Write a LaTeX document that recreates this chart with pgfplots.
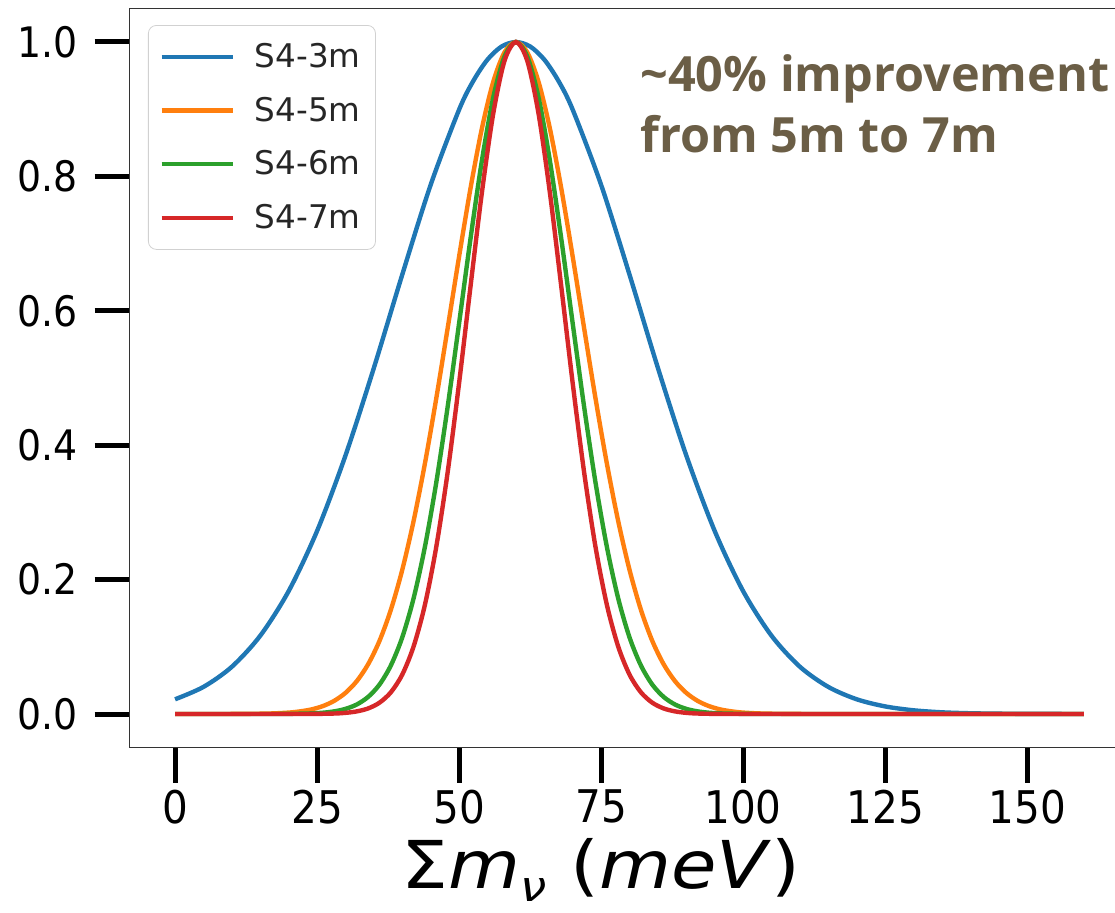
\documentclass[border=0pt]{standalone}
\usepackage{pgfplots}
\pgfplotsset{compat=1.18}
\usepackage{fontspec}
\setmainfont{DejaVu Sans}
\newfontfamily\notefont{Open Sans}
\newfontfamily\tickfont[FakeStretch=0.9]{DejaVu Sans}
\newfontfamily\labelfont[FakeStretch=1.12]{DejaVu Sans}

\definecolor{tabblue}{HTML}{1F77B4}
\definecolor{taborange}{HTML}{FF7F0E}
\definecolor{tabgreen}{HTML}{2CA02C}
\definecolor{tabred}{HTML}{D62728}
\definecolor{notecol}{RGB}{107,94,70}

% normalised posteriors on the neutrino mass sum, one table per configuration
\pgfplotstableread{
x y
0 0.0219
5 0.0403
10 0.0703
15 0.1165
20 0.1829
25 0.2723
30 0.3846
35 0.5150
40 0.6539
45 0.7875
50 0.8993
52.5 0.9420
55 0.9738
57.5 0.9934
60 1.0000
62.5 0.9934
65 0.9738
67.5 0.9420
70 0.8993
75 0.7875
80 0.6539
85 0.5150
90 0.3846
95 0.2723
100 0.1829
105 0.1165
110 0.0703
115 0.0403
120 0.0219
125 0.0113
130 0.0055
135 0.0025
140 0.0011
145 0.0005
150 0.0002
155 0.0001
160 0.0000
}\threem

\pgfplotstableread{
x y
0 0
8 0
16 0.0006
20 0.0021
22 0.0039
24 0.0068
26 0.0117
28 0.0195
30 0.0314
32 0.0490
34 0.0742
36 0.1090
38 0.1553
40 0.2146
42 0.2875
44 0.3734
46 0.4704
48 0.5747
50 0.6806
52 0.7817
54 0.8707
56 0.9403
58 0.9847
60 1.0000
62 0.9847
64 0.9403
66 0.8707
68 0.7817
70 0.6806
72 0.5747
74 0.4704
76 0.3734
78 0.2875
80 0.2146
82 0.1553
84 0.1090
86 0.0742
88 0.0490
90 0.0314
92 0.0195
94 0.0117
96 0.0068
98 0.0039
100 0.0021
104 0.0006
112 0
120 0
160 0
}\fivem

\pgfplotstableread{
x y
0 0
8 0
16 0
20 0.0002
24 0.0009
26 0.0019
28 0.0039
30 0.0076
32 0.0142
34 0.0255
36 0.0439
38 0.0724
40 0.1141
42 0.1724
44 0.2494
46 0.3453
48 0.4578
50 0.5813
52 0.7066
54 0.8226
56 0.9169
58 0.9785
60 1.0000
62 0.9785
64 0.9169
66 0.8226
68 0.7066
70 0.5813
72 0.4578
74 0.3453
76 0.2494
78 0.1724
80 0.1141
82 0.0724
84 0.0439
86 0.0255
88 0.0142
90 0.0076
92 0.0039
94 0.0019
96 0.0009
100 0.0002
104 0
112 0
160 0
}\sixm

\pgfplotstableread{
x y
0 0
8 0
16 0
24 0.0001
28 0.0007
30 0.0017
32 0.0039
34 0.0083
36 0.0169
38 0.0324
40 0.0587
42 0.1007
44 0.1630
46 0.2494
48 0.3604
50 0.4923
52 0.6354
54 0.7748
56 0.8928
58 0.9721
60 1.0000
62 0.9721
64 0.8928
66 0.7748
68 0.6354
70 0.4923
72 0.3604
74 0.2494
76 0.1630
78 0.1007
80 0.0587
82 0.0324
84 0.0169
86 0.0083
88 0.0039
90 0.0017
92 0.0007
96 0.0001
104 0
112 0
160 0
}\sevenm

\begin{document}
\begin{tikzpicture}
\useasboundingbox (0,0) rectangle (557.5pt,456pt);
\clip (0,0) rectangle (557.5pt,456pt);
\begin{axis}[
    at={(64.8pt,82.2pt)}, anchor=south west,
    scale only axis, width=499.9pt, height=369.6pt,
    xmin=-8, xmax=168, ymin=-0.05, ymax=1.05,
    xtick={0,25,...,150},
    ytick={0,0.2,0.4,0.6,0.8,1.0},
    yticklabels={0.0,0.2,0.4,0.6,0.8,1.0},
    xtick pos=bottom, ytick pos=left,
    tick align=outside, major tick length=17.5pt,
    tick style={black, line width=2.5pt},
    axis line style={black!80, line width=0.8pt},
    /pgf/number format/assume math mode=true,
    yticklabel style={font=\tickfont\fontsize{21pt}{21pt}\selectfont, xshift=-5pt},
    xticklabel style={font=\tickfont\fontsize{22.5pt}{22.5pt}\selectfont},
    xlabel={Σ\textit{m}\raisebox{-0.2em}{\fontsize{21pt}{21pt}\selectfont\textit{ν}}\ (\textit{meV})},
    xlabel style={font=\labelfont\fontsize{33pt}{33pt}\selectfont, inner sep=0pt,
                  at={(axis description cs:0.4715,-0.191)}, anchor=base},
    legend cell align=left,
    legend image code/.code={\draw[#1] (0pt,0pt) -- (35.5pt,0pt);},
    legend style={at={(0.0184,0.9775)}, anchor=north west,
                  draw=black!18, rounded corners=4pt, fill=white,
                  text=black!85,
                  font=\fontsize{16.3pt}{16.3pt}\selectfont,
                  inner xsep=5.5pt, inner ysep=7pt, row sep=9.2pt,
                  column sep=8pt},
    every axis plot/.append style={line width=2.2pt, smooth},
]
\addplot[tabblue] table {\threem};
\addlegendentry{S4-3m}
\addplot[taborange] table {\fivem};
\addlegendentry{S4-5m}
\addplot[tabgreen] table {\sixm};
\addlegendentry{S4-6m}
\addplot[tabred] table {\sevenm};
\addlegendentry{S4-7m}

\node[anchor=base west, inner sep=0pt, text=notecol,
      font=\notefont\bfseries\fontsize{24.3pt}{30pt}\selectfont]
  at (rel axis cs:0.5105,0.8869) {\textasciitilde 40\% improvement};
\node[anchor=base west, inner sep=0pt, text=notecol,
      font=\notefont\bfseries\fontsize{24.3pt}{30pt}\selectfont]
  at (rel axis cs:0.5105,0.8057) {from 5m to 7m};
\end{axis}
\end{tikzpicture}
\end{document}
